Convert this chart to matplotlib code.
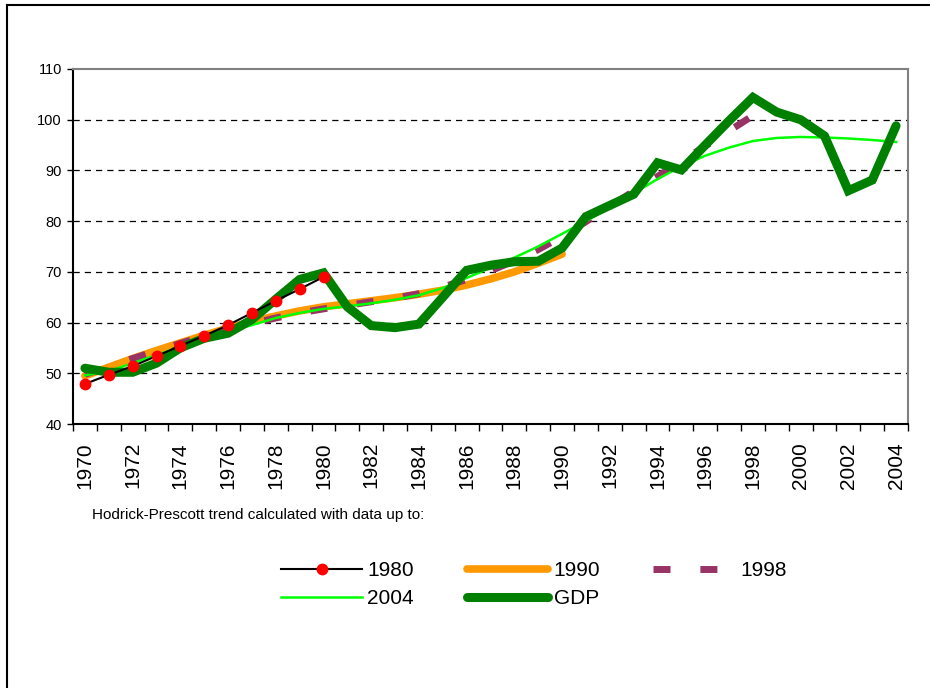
import numpy as np
import matplotlib
matplotlib.use("Agg")
import matplotlib.pyplot as plt
from matplotlib.lines import Line2D

plt.rcParams['font.family'] = ['Liberation Sans', 'DejaVu Sans']

# ---------------- data ----------------
years = list(range(1970, 2005))

gdp = [51.0, 50.2, 50.2, 52.0, 55.0, 56.9, 57.9, 60.6, 64.6, 68.5,
       69.8, 63.1, 59.4, 59.0, 59.7, 65.0, 70.3, 71.3, 72.0, 72.1,
       74.7, 80.9, 83.1, 85.3, 91.5, 90.1, 95.0, 99.8, 104.4, 101.5,
       100.0, 96.8, 86.0, 88.1, 98.8]

trend_1980 = [47.9, 49.7, 51.4, 53.4, 55.4, 57.4, 59.5, 61.9, 64.3, 66.6, 69.0]

trend_1990 = [49.5, 51.2, 52.9, 54.5, 56.0, 57.5, 58.9, 60.2, 61.3, 62.3,
              63.1, 63.7, 64.3, 64.9, 65.6, 66.4, 67.4, 68.6, 70.0, 71.7,
              73.5]

trend_1998 = [49.8, 51.3, 52.9, 54.4, 55.9, 57.3, 58.6, 59.8, 60.9, 61.9,
              62.7, 63.4, 64.1, 64.8, 65.7, 67.0, 68.5, 70.2, 72.2, 74.4,
              77.0, 79.9, 82.9, 85.9, 88.8, 91.8, 94.8, 97.8, 100.8]

trend_2004 = [49.6, 50.4, 52.0, 53.6, 55.2, 56.7, 58.2, 59.5, 60.9, 61.9,
              62.7, 63.2, 63.8, 64.5, 65.4, 66.8, 68.8, 70.8, 72.8, 75.0,
              77.5, 80.0, 82.6, 85.5, 88.3, 90.8, 92.9, 94.5, 95.8, 96.4,
              96.6, 96.5, 96.3, 96.0, 95.6]

y_ticks = [40, 50, 60, 70, 80, 90, 100, 110]

# ---------------- figure ----------------
fig = plt.figure(figsize=(9.3, 6.88), dpi=100)
ax = fig.add_axes([73/930, 1 - 424/688, (908 - 73)/930, (424 - 69)/688])

x = np.arange(len(years))

l90, = ax.plot(x[:len(trend_1990)], trend_1990, color='#FF9900', lw=5.5,
               solid_capstyle='round', zorder=2, label='1990')
l98, = ax.plot(x[:len(trend_1998)], trend_1998, color='#993366', lw=5,
               dashes=(2.45, 4.3), dash_capstyle='butt', zorder=3, label='1998')
l04, = ax.plot(x, trend_2004, color='#00FF00', lw=1.8, zorder=4, label='2004')
lgdp, = ax.plot(x, gdp, color='#008000', lw=6.5, solid_capstyle='round',
                solid_joinstyle='miter', zorder=5, label='GDP')
l80, = ax.plot(x[:len(trend_1980)], trend_1980, color='black', lw=1.5,
               marker='o', ms=7.5, mfc='#FF0000', mec='#FF0000', zorder=6,
               label='1980')

ax.set_xlim(-0.5, len(years) - 0.5)
ax.set_ylim(40, 110)
ax.set_yticks(y_ticks)
ax.tick_params(axis='y', labelsize=10.5, length=4, width=1, pad=4)

# category-style x axis: ticks between categories, labels every 2 years
ax.set_xticks(np.arange(-0.5, len(years), 1.0))
ax.set_xticklabels([])
ax.set_xticks(x[::2], minor=True)
ax.set_xticklabels([str(y) for y in years[::2]], minor=True, rotation=90,
                   fontsize=15)
ax.tick_params(axis='x', which='major', length=5, width=1)
ax.tick_params(axis='x', which='minor', length=0, pad=13)

for yv in y_ticks[1:-1]:
    ax.axhline(yv, color='black', lw=0.9, dashes=(5, 4), zorder=1)

ax.spines['top'].set_color('#808080')
ax.spines['right'].set_color('#808080')
for s in ax.spines.values():
    s.set_linewidth(1.5)

fig.text(92/930, 1 - 515/688, 'Hodrick-Prescott trend calculated with data up to:',
         fontsize=11, va='center', ha='left')

fig.legend(handles=[l80, l04, l90, lgdp, l98], ncol=3, frameon=False,
           loc='upper left', bbox_to_anchor=(281/930, 1 - 561/688),
           fontsize=15, handlelength=3.9, handletextpad=0.25,
           columnspacing=2.55, labelspacing=0.45, borderpad=0,
           borderaxespad=0)

# outer frame (left and top edges visible in the reference)
fig.add_artist(Line2D([7/930, 7/930], [0, 1 - 5/688], color='black', lw=1.5,
                      transform=fig.transFigure))
fig.add_artist(Line2D([7/930, 1], [1 - 5/688, 1 - 5/688], color='black', lw=1.5,
                      transform=fig.transFigure))

fig.savefig('out.png', dpi=100)
